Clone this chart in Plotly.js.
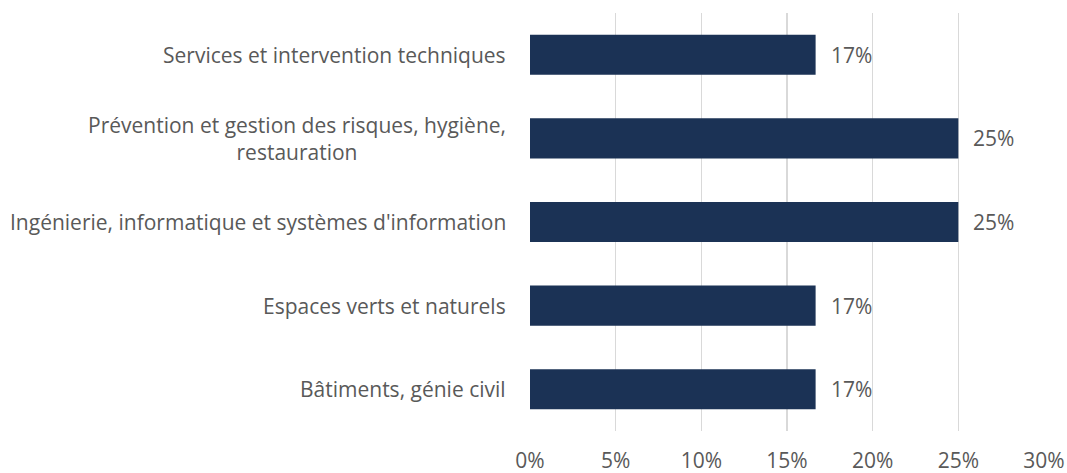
<!DOCTYPE html>
<html>
<head>
<meta charset="utf-8">
<script src="https://cdn.plot.ly/plotly-3.0.1.min.js"></script>
<style>html,body{margin:0;padding:0;background:#fff;}#chart{width:1067px;height:473px;}</style>
</head>
<body>
<div id="chart"></div>
<script>
const categories = [
  "Services et intervention techniques",
  "Prévention et gestion des risques, hygiène,<br>restauration",
  "Ingénierie, informatique et systèmes d'information",
  "Espaces verts et naturels",
  "Bâtiments, génie civil"
];
const values = [0.1667, 0.25, 0.25, 0.1667, 0.1667];
const valueLabels = ["17%", "25%", "25%", "17%", "17%"];
const tickValues = [0, 0.05, 0.10, 0.15, 0.20, 0.25, 0.30];
const tickLabels = ["0%", "5%", "10%", "15%", "20%", "25%", "30%"];

const FONT = "'Open Sans', sans-serif";
const TXT = "#595959";
const FS = 21;

const trace = {
  type: "bar",
  orientation: "h",
  x: values,
  y: categories.map((c, i) => i),
  marker: {color: "#1b3255"},
  width: 0.48,
  hoverinfo: "skip"
};

const annotations = [];
categories.forEach((c, i) => {
  annotations.push({
    xref: "paper", yref: "y", x: 0, y: i, xanchor: "right", yanchor: "middle",
    xshift: -22, text: c, align: "center", showarrow: false,
    font: {family: FONT, size: FS, color: TXT}
  });
  annotations.push({
    xref: "x", yref: "y", x: values[i], y: i, xanchor: "left", yanchor: "middle",
    xshift: 13, text: valueLabels[i], showarrow: false,
    font: {family: FONT, size: FS, color: TXT}
  });
});

const layout = {
  width: 1067, height: 473,
  margin: {l: 530, r: 23, t: 13, b: 42},
  paper_bgcolor: "#fff", plot_bgcolor: "#fff",
  showlegend: false,
  xaxis: {
    range: [0, 0.30], tickvals: tickValues, ticktext: tickLabels,
    showgrid: true, gridcolor: "#d9d9d9", gridwidth: 1.3,
    zeroline: false, showline: false, ticks: "",
    ticklabelstandoff: 15,
    tickfont: {family: FONT, size: FS, color: TXT}
  },
  yaxis: {
    range: [4.5, -0.5], showticklabels: false, showgrid: false,
    zeroline: false, showline: false, ticks: ""
  },
  annotations: annotations
};

Plotly.newPlot("chart", [trace], layout, {displayModeBar: false, staticPlot: true});
</script>
</body>
</html>
